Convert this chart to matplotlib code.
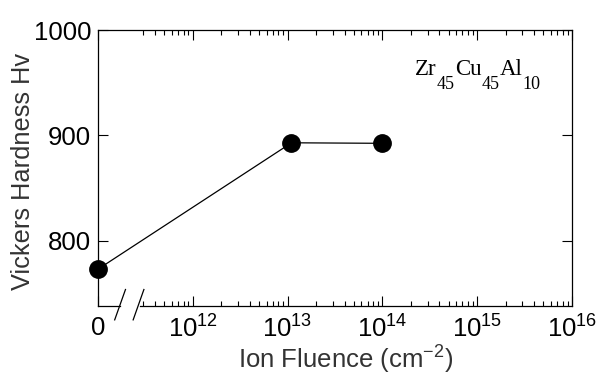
import matplotlib
matplotlib.use("Agg")
import matplotlib.pyplot as plt
import matplotlib.ticker as mticker

# data ("0" fluence sits at the 1e11 position)
fluence = [1e11, 1.1e13, 1e14]
hardness = [773, 893, 892.5]
hardness_err = [3, 2, 2]
x_ticks = [1e11, 1e12, 1e13, 1e14, 1e15, 1e16]
x_labels = ["0"] + [r"$\mathregular{10^{%d}}$" % e for e in range(12, 17)]
y_ticks = [800, 900, 1000]
formula = [("Zr", False), ("45", True), ("Cu", False), ("45", True),
           ("Al", False), ("10", True)]

plt.rcParams["font.family"] = ["Liberation Sans", "DejaVu Sans"]

fig = plt.figure(figsize=(6.03, 3.76), dpi=100)
ax = fig.add_axes([0.1625, 0.186, 0.786, 0.734])

ax.errorbar(fluence, hardness, yerr=hardness_err, color="black", lw=0.9,
            marker="o", markersize=12.5, elinewidth=1, capsize=0, zorder=3,
            clip_on=False)

ax.set_xscale("log")
ax.set_xlim(1e11, 1e16)
ax.set_ylim(738, 1000)
ax.set_xticks(x_ticks)
ax.set_xticklabels(x_labels)
# minor log ticks, the 2e11 one sits inside the axis break
minors = [m * 10.0 ** e for e in range(11, 16) for m in range(2, 10)]
minors = [m for m in minors if m > 2.5e11]
ax.xaxis.set_minor_locator(mticker.FixedLocator(minors))
ax.xaxis.set_minor_formatter(mticker.NullFormatter())
ax.set_yticks(y_ticks)

ax.tick_params(which="both", direction="in", top=True, right=True,
               labelsize=18.5, colors="black", width=0.8)
ax.tick_params(which="major", length=7, pad=7)
ax.tick_params(which="minor", length=3.5)
ax.tick_params(axis="y", pad=5)
for sp in ax.spines.values():
    sp.set_linewidth(0.9)

# axis break on the bottom spine
ax.spines["bottom"].set_visible(False)
trans = ax.get_xaxis_transform()
ax.plot([1e11, 1.7e11], [0, 0], color="black", lw=0.9, transform=trans, clip_on=False)
ax.plot([2.8e11, 1e16], [0, 0], color="black", lw=0.9, transform=trans, clip_on=False)
for x0, x1 in [(1.5e11, 1.95e11), (2.35e11, 3.05e11)]:
    ax.plot([x0, x1], [-0.05, 0.06], color="black", lw=0.9, transform=trans, clip_on=False)

ax.set_ylabel("Vickers Hardness Hv", fontsize=18.3, color="#333333")
ax.yaxis.set_label_coords(-0.133, 0.486)
ax.set_xlabel(r"Ion Fluence (cm$\mathregular{^{-2}}$)", fontsize=18.5,
              color="#333333", va="baseline")
ax.xaxis.set_label_coords(0.523, -0.228)

# Zr45Cu45Al10 with large, low subscripts
prev = None
for piece, sub in formula:
    size = 13 if sub else 16.5
    dy = -10 if sub else 0
    if prev is None:
        prev = ax.annotate(piece, xy=(0.669, 0.837), xycoords="axes fraction",
                           fontsize=size, family="Liberation Serif", va="baseline")
    else:
        prev = ax.annotate(piece, xy=(1, 0.837), xycoords=(prev, "axes fraction"),
                           xytext=(0, dy), textcoords="offset points",
                           fontsize=size, family="Liberation Serif", va="baseline")

fig.savefig("out.png", dpi=100)
